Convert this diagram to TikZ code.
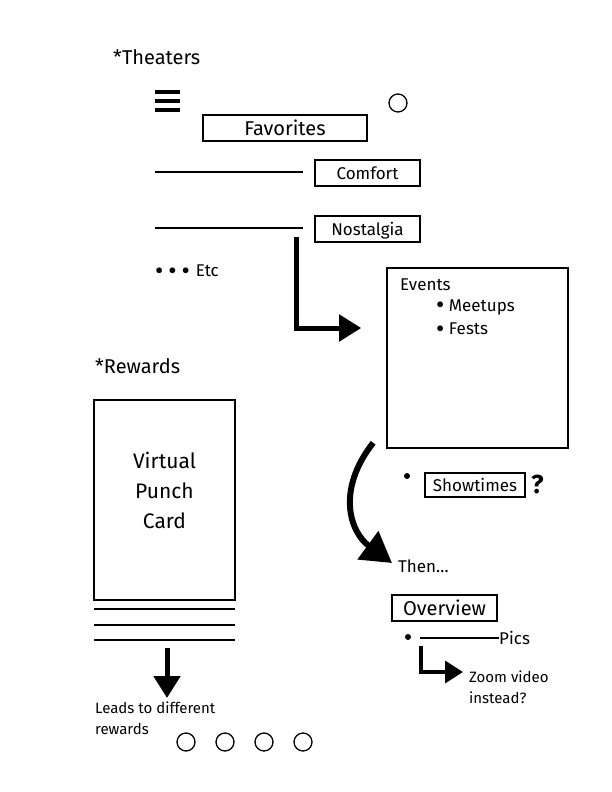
\documentclass[tikz,border=0pt]{standalone}
\usepackage{fontspec}
\setmainfont{Fira Sans}
\usetikzlibrary{arrows.meta, positioning}
\tikzstyle{tab} = [rectangle, draw=black, line width=1.6pt, inner sep=0pt, text depth=0pt]
\tikzstyle{bigarrow} = [line width=5pt, -{Triangle[length=22pt, width=26pt]}]
\newcommand{\blob}{\smash{\raisebox{-2.6pt}{\scalebox{1.5}{\textbullet}}}}

\begin{document}
\begin{tikzpicture}[
        x=1pt, y=-1pt,
        note/.style={anchor=west, inner sep=0pt, align=left},
        ring/.style={circle, draw, line width=1.3pt, minimum size=18pt, inner sep=0pt},
        rule/.style={line width=1.6pt},
        big/.style={font=\fontsize{20}{24}\selectfont},
        mid/.style={font=\fontsize{17}{22}\selectfont},
        small/.style={font=\fontsize{15}{21}\selectfont}
        ]
        \useasboundingbox (0,0) rectangle (612,792);

        % theaters screen
        \node[note, big] (theaters) at (113,57) {*Theaters};
        \foreach \y in {92,101,110}
            \fill (155,\y-2) rectangle (180,\y+2);
        \node[ring] (search) at (398,103) {};
        \node[tab, big, minimum width=164pt, minimum height=26pt] (favorites) at (285,128) {Favorites};

        \node[tab, mid, minimum width=105pt, minimum height=26pt] (comfort) at (367.5,173) {Comfort};
        \draw[rule] (155,172) -- (303,172);
        \node[tab, mid, minimum width=105pt, minimum height=26pt] (nostalgia) at (367.5,229) {Nostalgia};
        \draw[rule] (155,228) -- (303,228);
        \node[note, mid] (etc) at (155,271) {\blob\hspace{5pt}\blob\hspace{5pt}\blob\hspace{6pt}Etc};

        % events
        \node[tab, minimum width=181pt, minimum height=180pt] (events) at (477.5,358) {};
        \node[note, mid] (eventstitle) at (400,285) {Events};
        \node[note, mid] (meetups) at (436,307) {\blob\ Meetups};
        \node[note, mid] (fests) at (436,329) {\blob\ Fests};

        \coordinate (pick) at (296,237);
        \coordinate (bend) at (296,328);
        \draw[bigarrow] (pick) -- (bend) -- ([xshift=-25pt]events.west |- bend);

        % showtimes and overview
        \fill (407,476) circle (3pt);
        \node[tab, mid, minimum width=100pt, minimum height=24pt] (showtimes) at (475,485) {Showtimes};
        \node[note, font=\fontsize{26}{28}\selectfont\bfseries] (ask) at (531,484) {?};

        \node[note, mid] (then) at (398,566) {Then\dots};
        \draw[line width=6pt, -{Triangle[length=30pt, width=34pt]}]
            (events.south west) ++(-13,-6) .. controls (336,490) and (350,532) .. ([xshift=-6pt,yshift=3pt]then.west);

        \node[tab, big, minimum width=105pt, minimum height=26pt] (overview) at (444.5,608) {Overview};
        \fill (408,637) circle (3pt);
        \node[note, mid] (pics) at (499,638) {Pics};
        \draw[rule] (420,638) -- (pics.west);

        \coordinate (zstart) at (421,646);
        \draw[line width=3.5pt, -{Triangle[length=18pt, width=22pt]}]
            (zstart) -- (421,672) -- (463,672);
        \node[note, small] (zoomvid) at (469,687) {Zoom video\\instead?};

        % rewards
        \node[note, big] (rewards) at (95,366) {*Rewards};
        \node[tab, minimum width=141pt, minimum height=200pt] (card) at (164.5,500) {};
        \node[align=center, font=\fontsize{21}{30}\selectfont] (cardtext) at (164.5,490) {Virtual\\Punch\\Card};
        \foreach \y in {609,625,640}
            \draw[rule] (94,\y) -- (235,\y);

        \node[note, small] (leads) at (95,718) {Leads to different\\rewards};
        \draw[bigarrow] (167,648) -- (167,698);
        \foreach \x in {186,225,264,303}
            \node[ring] at (\x,742) {};

    \end{tikzpicture}
\end{document}
